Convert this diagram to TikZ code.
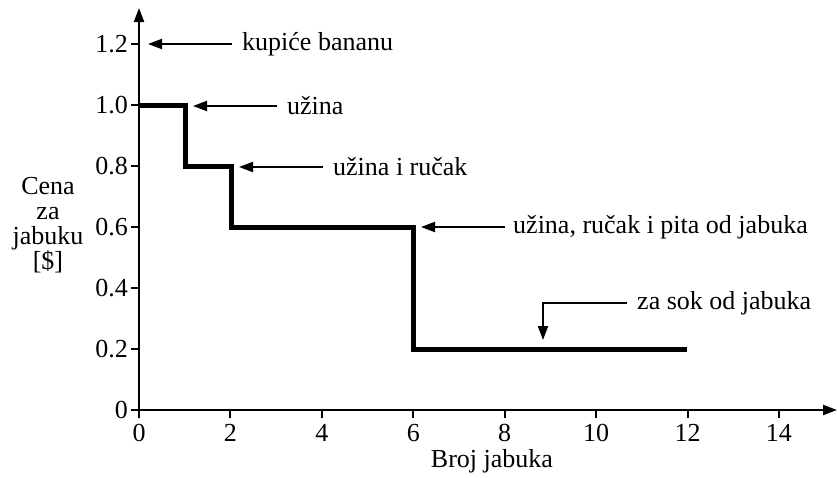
\documentclass[tikz,border=0pt]{standalone}
\usepackage{fontspec}
\setmainfont{Liberation Serif}
\usetikzlibrary{arrows.meta}
\begin{document}
\begin{tikzpicture}[x=1pt,y=-1pt,
  axis/.style={line width=2.2pt,-{Triangle[length=14pt,width=10pt]}},
  tickmark/.style={line width=2pt},
  stepline/.style={line width=5pt,line join=miter,line cap=butt},
  callout/.style={line width=2pt,-{Triangle[length=14pt,width=10pt]}},
  lbl/.style={font=\fontsize{26}{26}\selectfont,inner sep=0pt},
  note/.style={lbl,anchor=west}]
\useasboundingbox (0,0) rectangle (837,477);
% axes
\coordinate (O) at (139,410);
\coordinate (xend) at (837,410);
\coordinate (yend) at (139,8);
\draw[axis] (O) -- (xend);
\draw[axis] (O) -- (yend);
% y ticks
\foreach \v/\t [count=\i] in {0/0,0.2/0.2,0.4/0.4,0.6/0.6,0.8/0.8,1.0/1.0,1.2/1.2}{
  \pgfmathsetmacro{\yy}{410-305*\v}
  \draw[tickmark] (131,\yy) -- (139,\yy);
  \node[lbl,anchor=east] (yl\i) at (128,\yy) {\t};
}
% x ticks
\foreach \v [count=\i] in {0,2,4,6,8,10,12,14}{
  \pgfmathsetmacro{\xx}{139+45.71*\v}
  \draw[tickmark] (\xx,410) -- (\xx,418);
  \node[lbl] (xl\i) at (\xx,433) {\v};
}
\node[lbl] (xlabel) at (492,461) {Broj jabuka};
\node[lbl,align=center,font=\fontsize{26}{25}\selectfont] (ylabel) at (48,225) {Cena\\za\\jabuku\\{[}\$]};
% step function
\draw[stepline] (139,105) -- (185,105) -- (185,166) -- (231,166) -- (231,227) -- (413,227) -- (413,349) -- (687,349);
% annotations
\coordinate (p1) at (148,44);
\coordinate (p2) at (193,106);
\coordinate (p3) at (239,167);
\coordinate (p4) at (421,227);
\coordinate (p5) at (543,340);
\coordinate (c5) at (543,303);
\node[note] (n1) at (242,44) {kupiće bananu};
\node[note] (n2) at (287,106) {užina};
\node[note] (n3) at (333,167) {užina i ručak};
\node[note] (n4) at (513,227) {užina, ručak i pita od jabuka};
\node[note] (n5) at (637,303) {za sok od jabuka};
\draw[callout] ([xshift=-10pt]n1.west) -- (p1);
\draw[callout] ([xshift=-10pt]n2.west) -- (p2);
\draw[callout] ([xshift=-10pt]n3.west) -- (p3);
\draw[callout] ([xshift=-8pt]n4.west) -- (p4);
\draw[callout] ([xshift=-10pt]n5.west) -- (c5) -- (p5);
\end{tikzpicture}
\end{document}
